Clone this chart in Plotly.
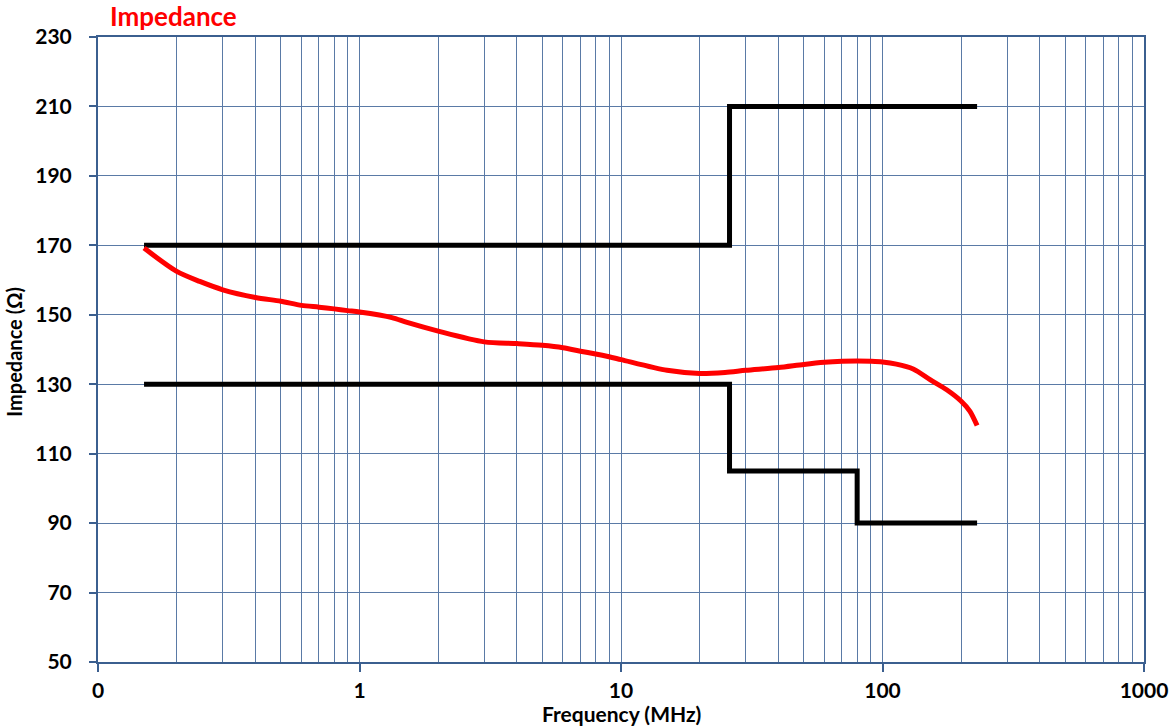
import plotly.graph_objects as go

# Measured impedance (red curve)
freq_mhz = [0.15, 0.2, 0.245, 0.3, 0.4, 0.5, 0.6, 0.7, 0.8, 0.9, 1.0, 1.33, 1.52, 2, 3, 4, 5, 6, 7, 8, 9,
            10, 15, 20, 25, 30, 40, 50, 60, 70, 80, 90, 100, 113, 131, 152, 176, 200, 216, 230]
impedance = [169.2, 162.5, 159.6, 157.2, 155.0, 153.9, 152.7, 152.2, 151.7, 151.2, 150.8, 149.2, 147.8, 145.3,
             142.2, 141.7, 141.2, 140.5, 139.5, 138.7, 137.9, 137.1, 134.0, 133.1, 133.4, 134.0, 134.8, 135.7,
             136.3, 136.6, 136.7, 136.6, 136.4, 135.8, 134.4, 131.3, 128.4, 125.1, 122.2, 118.1]

# Limit lines
upper_freq = [0.15, 26, 26, 230]
upper_limit = [170, 170, 210, 210]
lower_freq = [0.15, 26, 26, 80, 80, 230]
lower_limit = [130, 130, 105, 105, 90, 90]

x_tickvals = [0.1, 1, 10, 100, 1000]
x_ticktext = ["0", "1", "10", "100", "1000"]
y_tickvals = [50, 70, 90, 110, 130, 150, 170, 190, 210, 230]
minor_vals = [m * 10 ** e for e in range(-1, 3) for m in range(2, 10)]

AXIS = "#3b5f8f"
GRID = "#5a7aa6"
FONT = "Lato"

fig = go.Figure()
fig.add_trace(go.Scatter(x=upper_freq, y=upper_limit, mode="lines",
                         line=dict(color="black", width=5), showlegend=False))
fig.add_trace(go.Scatter(x=lower_freq, y=lower_limit, mode="lines",
                         line=dict(color="black", width=5), showlegend=False))
fig.add_trace(go.Scatter(x=freq_mhz, y=impedance, mode="lines",
                         line=dict(color="#ff0000", width=5, shape="spline", smoothing=0.8),
                         showlegend=False))

fig.update_layout(
    width=1170, height=727,
    margin=dict(l=98, r=26, t=37, b=65),
    plot_bgcolor="white", paper_bgcolor="white",
    font=dict(family=FONT, color="black"),
    title=dict(text="<b>Impedance</b>", x=110 / 1170, xanchor="left", xref="container",
               y=1 - 17 / 727, yanchor="middle", yref="container",
               font=dict(family=FONT, size=26, color="#ff0000")),
    xaxis=dict(
        type="log", range=[-1, 3], automargin=False,
        tickmode="array", tickvals=x_tickvals, ticktext=x_ticktext,
        tickfont=dict(size=21, family=FONT, weight="bold"),
        ticks="outside", ticklen=8, tickcolor=AXIS, tickwidth=1.5,
        ticklabelstandoff=1,
        showgrid=True, gridcolor=GRID, gridwidth=1,
        minor=dict(tickvals=minor_vals, showgrid=True, gridcolor=GRID, gridwidth=1, ticklen=0),
        showline=True, linecolor=AXIS, linewidth=2, mirror=True,
        zeroline=False,
    ),
    yaxis=dict(
        range=[50, 230], automargin=False,
        tickmode="array", tickvals=y_tickvals,
        tickfont=dict(size=21, family=FONT, weight="bold"),
        ticks="outside", ticklen=7, tickcolor=AXIS, tickwidth=1.5,
        ticklabelstandoff=13,
        showgrid=True, gridcolor=GRID, gridwidth=1,
        showline=True, linecolor=AXIS, linewidth=2, mirror=True,
        zeroline=False,
    ),
    annotations=[
        dict(text="<b>Frequency (MHz)</b>", xref="paper", yref="paper",
             x=0.5, y=(662.3 - 714) / 625, xanchor="center", yanchor="middle",
             showarrow=False, font=dict(family=FONT, size=21, color="black")),
        dict(text="<b>Impedance (Ω)</b>", xref="paper", yref="paper",
             x=(14 - 98) / 1046, y=(662.3 - 352) / 625, xanchor="center", yanchor="middle",
             textangle=-90, showarrow=False, font=dict(family=FONT, size=20, color="black")),
    ],
)

fig.write_html("out.html", config={"displayModeBar": False},
               post_script="document.body.style.margin='0';document.body.style.overflow='hidden';")
